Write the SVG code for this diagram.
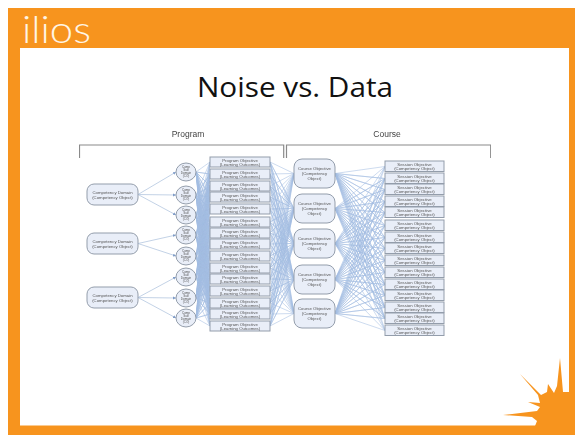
<svg xmlns="http://www.w3.org/2000/svg" width="575" height="435" viewBox="0 0 575 435">
<style>
.w{fill:none;stroke:#a3bde2;stroke-width:.55;stroke-linejoin:bevel}
.d{fill:none;stroke:#b4c6e0;stroke-width:.8}
.n{fill:#e9eef8;stroke:#939dab;stroke-width:1}
.t{font-family:"Liberation Sans",Arial,sans-serif;font-size:4.3px;fill:#555;text-anchor:middle}
.c{font-size:3px}
.h{font-family:"Liberation Sans",Arial,sans-serif;font-size:8.5px;fill:#444;text-anchor:middle}
.b{fill:none;stroke:#8a8a8a;stroke-width:1.2}
</style>
<defs>
<marker id="a" markerWidth="4" markerHeight="4" refX="3" refY="1.5" orient="auto" markerUnits="userSpaceOnUse"><path d="M0 0L3 1.5 0 3z" fill="#7f9cc8"/></marker>
<filter id="s" x="0" y="0" width="1" height="1"><feGaussianBlur stdDeviation=".3"/></filter>
</defs>
<rect id="frame" x="8" y="8" width="567" height="427" fill="#f7941e"/>
<rect id="page" x="20" y="48" width="549" height="377.500" fill="#fff"/>
<path id="burst" fill="#f7941e" d="M567 392L563 392 560 358 557 386 554 393 548 384 547 392 541 395 520 374 538 395 540 403 528 402 540 407 537 411 503 415 532 417 537 421 535 426 575 426 575 392z"/>
<text id="logo" x="22" y="43" font-family="Lato,'Open Sans',sans-serif" font-weight="300" font-size="38" fill="#fff5e4" textLength="69" lengthAdjust="spacingAndGlyphs">ilios</text>
<text id="title" x="295" y="97" font-family="'Open Sans','Noto Sans',sans-serif" font-size="28" fill="#111" text-anchor="middle" textLength="196" lengthAdjust="spacingAndGlyphs">Noise vs. Data</text>
<g filter="url(#s)">
<g id="connectors">
<path class="d" marker-end="url(#a)" d="M138 194.500L176 172"/>
<path class="d" marker-end="url(#a)" d="M138 194.500L176 195"/>
<path class="d" marker-end="url(#a)" d="M138 194.500L176 215"/>
<path class="d" marker-end="url(#a)" d="M138 243.500L176 235"/>
<path class="d" marker-end="url(#a)" d="M138 243.500L176 256"/>
<path class="d" marker-end="url(#a)" d="M138 297.500L176 277"/>
<path class="d" marker-end="url(#a)" d="M138 297.500L176 298"/>
<path class="d" marker-end="url(#a)" d="M138 297.500L176 318"/>
<path class="w" d="M210 162 196 172 210 174 196 172 210 186 196 172 210 197 196 172 210 209 196 172 210 222 196 172 210 233 196 172 210 244 196 172 210 256 196 172 210 268 196 172 210 279 196 172 210 291 196 172 210 303 196 172 210 314 196 172 210 326"/>
<path class="w" d="M210 162 196 195 210 174 196 195 210 186 196 195 210 197 196 195 210 209 196 195 210 222 196 195 210 233 196 195 210 244 196 195 210 256 196 195 210 268 196 195 210 279 196 195 210 291 196 195 210 303 196 195 210 314 196 195 210 326"/>
<path class="w" d="M210 162 196 215 210 174 196 215 210 186 196 215 210 197 196 215 210 209 196 215 210 222 196 215 210 233 196 215 210 244 196 215 210 256 196 215 210 268 196 215 210 279 196 215 210 291 196 215 210 303 196 215 210 314 196 215 210 326"/>
<path class="w" d="M210 162 196 235 210 174 196 235 210 186 196 235 210 197 196 235 210 209 196 235 210 222 196 235 210 233 196 235 210 244 196 235 210 256 196 235 210 268 196 235 210 279 196 235 210 291 196 235 210 303 196 235 210 314 196 235 210 326"/>
<path class="w" d="M210 162 196 256 210 174 196 256 210 186 196 256 210 197 196 256 210 209 196 256 210 222 196 256 210 233 196 256 210 244 196 256 210 256 196 256 210 268 196 256 210 279 196 256 210 291 196 256 210 303 196 256 210 314 196 256 210 326"/>
<path class="w" d="M210 162 196 277 210 174 196 277 210 186 196 277 210 197 196 277 210 209 196 277 210 222 196 277 210 233 196 277 210 244 196 277 210 256 196 277 210 268 196 277 210 279 196 277 210 291 196 277 210 303 196 277 210 314 196 277 210 326"/>
<path class="w" d="M210 162 196 298 210 174 196 298 210 186 196 298 210 197 196 298 210 209 196 298 210 222 196 298 210 233 196 298 210 244 196 298 210 256 196 298 210 268 196 298 210 279 196 298 210 291 196 298 210 303 196 298 210 314 196 298 210 326"/>
<path class="w" d="M210 162 196 318 210 174 196 318 210 186 196 318 210 197 196 318 210 209 196 318 210 222 196 318 210 233 196 318 210 244 196 318 210 256 196 318 210 268 196 318 210 279 196 318 210 291 196 318 210 303 196 318 210 314 196 318 210 326"/>
<path class="w" d="M294 173.500 270 162 294 208.500 270 162 294 243.500 270 162 294 279.500 270 162 294 313.500"/>
<path class="w" d="M294 173.500 270 174 294 208.500 270 174 294 243.500 270 174 294 279.500 270 174 294 313.500"/>
<path class="w" d="M294 173.500 270 186 294 208.500 270 186 294 243.500 270 186 294 279.500 270 186 294 313.500"/>
<path class="w" d="M294 173.500 270 197 294 208.500 270 197 294 243.500 270 197 294 279.500 270 197 294 313.500"/>
<path class="w" d="M294 173.500 270 209 294 208.500 270 209 294 243.500 270 209 294 279.500 270 209 294 313.500"/>
<path class="w" d="M294 173.500 270 222 294 208.500 270 222 294 243.500 270 222 294 279.500 270 222 294 313.500"/>
<path class="w" d="M294 173.500 270 233 294 208.500 270 233 294 243.500 270 233 294 279.500 270 233 294 313.500"/>
<path class="w" d="M294 173.500 270 244 294 208.500 270 244 294 243.500 270 244 294 279.500 270 244 294 313.500"/>
<path class="w" d="M294 173.500 270 256 294 208.500 270 256 294 243.500 270 256 294 279.500 270 256 294 313.500"/>
<path class="w" d="M294 173.500 270 268 294 208.500 270 268 294 243.500 270 268 294 279.500 270 268 294 313.500"/>
<path class="w" d="M294 173.500 270 279 294 208.500 270 279 294 243.500 270 279 294 279.500 270 279 294 313.500"/>
<path class="w" d="M294 173.500 270 291 294 208.500 270 291 294 243.500 270 291 294 279.500 270 291 294 313.500"/>
<path class="w" d="M294 173.500 270 303 294 208.500 270 303 294 243.500 270 303 294 279.500 270 303 294 313.500"/>
<path class="w" d="M294 173.500 270 314 294 208.500 270 314 294 243.500 270 314 294 279.500 270 314 294 313.500"/>
<path class="w" d="M294 173.500 270 326 294 208.500 270 326 294 243.500 270 326 294 279.500 270 326 294 313.500"/>
<path class="w" d="M385 166.500 335 173.500 385 178.500 335 173.500 385 189.500 335 173.500 385 201.500 335 173.500 385 212.500 335 173.500 385 225.500 335 173.500 385 237.500 335 173.500 385 248.500 335 173.500 385 260.500 335 173.500 385 272.500 335 173.500 385 284.500 335 173.500 385 295.500 335 173.500 385 307.500 335 173.500 385 318.500 335 173.500 385 330.500"/>
<path class="w" d="M385 166.500 335 208.500 385 178.500 335 208.500 385 189.500 335 208.500 385 201.500 335 208.500 385 212.500 335 208.500 385 225.500 335 208.500 385 237.500 335 208.500 385 248.500 335 208.500 385 260.500 335 208.500 385 272.500 335 208.500 385 284.500 335 208.500 385 295.500 335 208.500 385 307.500 335 208.500 385 318.500 335 208.500 385 330.500"/>
<path class="w" d="M385 166.500 335 243.500 385 178.500 335 243.500 385 189.500 335 243.500 385 201.500 335 243.500 385 212.500 335 243.500 385 225.500 335 243.500 385 237.500 335 243.500 385 248.500 335 243.500 385 260.500 335 243.500 385 272.500 335 243.500 385 284.500 335 243.500 385 295.500 335 243.500 385 307.500 335 243.500 385 318.500 335 243.500 385 330.500"/>
<path class="w" d="M385 166.500 335 279.500 385 178.500 335 279.500 385 189.500 335 279.500 385 201.500 335 279.500 385 212.500 335 279.500 385 225.500 335 279.500 385 237.500 335 279.500 385 248.500 335 279.500 385 260.500 335 279.500 385 272.500 335 279.500 385 284.500 335 279.500 385 295.500 335 279.500 385 307.500 335 279.500 385 318.500 335 279.500 385 330.500"/>
<path class="w" d="M385 166.500 335 313.500 385 178.500 335 313.500 385 189.500 335 313.500 385 201.500 335 313.500 385 212.500 335 313.500 385 225.500 335 313.500 385 237.500 335 313.500 385 248.500 335 313.500 385 260.500 335 313.500 385 272.500 335 313.500 385 284.500 335 313.500 385 295.500 335 313.500 385 307.500 335 313.500 385 318.500 335 313.500 385 330.500"/>
</g>
<g id="program-bracket"><path class="b" d="M79.500 158V145H283.700V158"/><text class="h" x="188" y="137">Program</text></g>
<g id="course-bracket"><path class="b" d="M286.500 158V145H490.700V158"/><text class="h" x="387" y="137">Course</text></g>
<g id="domain1"><rect class="n" x="87" y="184" width="51" height="21" rx="7"/><text class="t" x="112.500" y="193.500">Competency Domain<tspan x="112.500" dy="5">(Competency Object)</tspan></text></g>
<g id="domain2"><rect class="n" x="87" y="233" width="51" height="21" rx="7"/><text class="t" x="112.500" y="242.500">Competency Domain<tspan x="112.500" dy="5">(Competency Object)</tspan></text></g>
<g id="domain3"><rect class="n" x="87" y="287" width="51" height="21" rx="7"/><text class="t" x="112.500" y="296.500">Competency Domain<tspan x="112.500" dy="5">(Competency Object)</tspan></text></g>
<g id="sub1"><ellipse class="n" cx="186" cy="172" rx="10" ry="9"/><text class="t c" x="186" y="167.500">Comp<tspan x="186" dy="3.200">Sub</tspan><tspan x="186" dy="3.200">Domain</tspan><tspan x="186" dy="3.200">(CO)</tspan></text></g>
<g id="sub2"><ellipse class="n" cx="186" cy="195" rx="10" ry="9"/><text class="t c" x="186" y="190.500">Comp<tspan x="186" dy="3.200">Sub</tspan><tspan x="186" dy="3.200">Domain</tspan><tspan x="186" dy="3.200">(CO)</tspan></text></g>
<g id="sub3"><ellipse class="n" cx="186" cy="215" rx="10" ry="9"/><text class="t c" x="186" y="210.500">Comp<tspan x="186" dy="3.200">Sub</tspan><tspan x="186" dy="3.200">Domain</tspan><tspan x="186" dy="3.200">(CO)</tspan></text></g>
<g id="sub4"><ellipse class="n" cx="186" cy="235" rx="10" ry="9"/><text class="t c" x="186" y="230.500">Comp<tspan x="186" dy="3.200">Sub</tspan><tspan x="186" dy="3.200">Domain</tspan><tspan x="186" dy="3.200">(CO)</tspan></text></g>
<g id="sub5"><ellipse class="n" cx="186" cy="256" rx="10" ry="9"/><text class="t c" x="186" y="251.500">Comp<tspan x="186" dy="3.200">Sub</tspan><tspan x="186" dy="3.200">Domain</tspan><tspan x="186" dy="3.200">(CO)</tspan></text></g>
<g id="sub6"><ellipse class="n" cx="186" cy="277" rx="10" ry="9"/><text class="t c" x="186" y="272.500">Comp<tspan x="186" dy="3.200">Sub</tspan><tspan x="186" dy="3.200">Domain</tspan><tspan x="186" dy="3.200">(CO)</tspan></text></g>
<g id="sub7"><ellipse class="n" cx="186" cy="298" rx="10" ry="9"/><text class="t c" x="186" y="293.500">Comp<tspan x="186" dy="3.200">Sub</tspan><tspan x="186" dy="3.200">Domain</tspan><tspan x="186" dy="3.200">(CO)</tspan></text></g>
<g id="sub8"><ellipse class="n" cx="186" cy="318" rx="10" ry="9"/><text class="t c" x="186" y="313.500">Comp<tspan x="186" dy="3.200">Sub</tspan><tspan x="186" dy="3.200">Domain</tspan><tspan x="186" dy="3.200">(CO)</tspan></text></g>
<g id="po1"><rect class="n" x="210" y="157" width="60" height="10"/><text class="t" x="240" y="161.500">Program Objective<tspan x="240" dy="4.700">(Learning Outcomes)</tspan></text></g>
<g id="po2"><rect class="n" x="210" y="169" width="60" height="10"/><text class="t" x="240" y="173.500">Program Objective<tspan x="240" dy="4.700">(Learning Outcomes)</tspan></text></g>
<g id="po3"><rect class="n" x="210" y="181" width="60" height="10"/><text class="t" x="240" y="185.500">Program Objective<tspan x="240" dy="4.700">(Learning Outcomes)</tspan></text></g>
<g id="po4"><rect class="n" x="210" y="192" width="60" height="10"/><text class="t" x="240" y="196.500">Program Objective<tspan x="240" dy="4.700">(Learning Outcomes)</tspan></text></g>
<g id="po5"><rect class="n" x="210" y="204" width="60" height="10"/><text class="t" x="240" y="208.500">Program Objective<tspan x="240" dy="4.700">(Learning Outcomes)</tspan></text></g>
<g id="po6"><rect class="n" x="210" y="217" width="60" height="10"/><text class="t" x="240" y="221.500">Program Objective<tspan x="240" dy="4.700">(Learning Outcomes)</tspan></text></g>
<g id="po7"><rect class="n" x="210" y="228" width="60" height="10"/><text class="t" x="240" y="232.500">Program Objective<tspan x="240" dy="4.700">(Learning Outcomes)</tspan></text></g>
<g id="po8"><rect class="n" x="210" y="239" width="60" height="10"/><text class="t" x="240" y="243.500">Program Objective<tspan x="240" dy="4.700">(Learning Outcomes)</tspan></text></g>
<g id="po9"><rect class="n" x="210" y="251" width="60" height="10"/><text class="t" x="240" y="255.500">Program Objective<tspan x="240" dy="4.700">(Learning Outcomes)</tspan></text></g>
<g id="po10"><rect class="n" x="210" y="263" width="60" height="10"/><text class="t" x="240" y="267.500">Program Objective<tspan x="240" dy="4.700">(Learning Outcomes)</tspan></text></g>
<g id="po11"><rect class="n" x="210" y="274" width="60" height="10"/><text class="t" x="240" y="278.500">Program Objective<tspan x="240" dy="4.700">(Learning Outcomes)</tspan></text></g>
<g id="po12"><rect class="n" x="210" y="286" width="60" height="10"/><text class="t" x="240" y="290.500">Program Objective<tspan x="240" dy="4.700">(Learning Outcomes)</tspan></text></g>
<g id="po13"><rect class="n" x="210" y="298" width="60" height="10"/><text class="t" x="240" y="302.500">Program Objective<tspan x="240" dy="4.700">(Learning Outcomes)</tspan></text></g>
<g id="po14"><rect class="n" x="210" y="309" width="60" height="10"/><text class="t" x="240" y="313.500">Program Objective<tspan x="240" dy="4.700">(Learning Outcomes)</tspan></text></g>
<g id="po15"><rect class="n" x="210" y="321" width="60" height="10"/><text class="t" x="240" y="325.500">Program Objective<tspan x="240" dy="4.700">(Learning Outcomes)</tspan></text></g>
<g id="co1"><rect class="n" x="294" y="159" width="41" height="29" rx="8"/><text class="t" x="314.500" y="170">Course Objective<tspan x="314.500" dy="4.800">(Competency</tspan><tspan x="314.500" dy="4.800">Object)</tspan></text></g>
<g id="co2"><rect class="n" x="294" y="194" width="41" height="29" rx="8"/><text class="t" x="314.500" y="205">Course Objective<tspan x="314.500" dy="4.800">(Competency</tspan><tspan x="314.500" dy="4.800">Object)</tspan></text></g>
<g id="co3"><rect class="n" x="294" y="229" width="41" height="29" rx="8"/><text class="t" x="314.500" y="240">Course Objective<tspan x="314.500" dy="4.800">(Competency</tspan><tspan x="314.500" dy="4.800">Object)</tspan></text></g>
<g id="co4"><rect class="n" x="294" y="265" width="41" height="29" rx="8"/><text class="t" x="314.500" y="276">Course Objective<tspan x="314.500" dy="4.800">(Competency</tspan><tspan x="314.500" dy="4.800">Object)</tspan></text></g>
<g id="co5"><rect class="n" x="294" y="299" width="41" height="29" rx="8"/><text class="t" x="314.500" y="310">Course Objective<tspan x="314.500" dy="4.800">(Competency</tspan><tspan x="314.500" dy="4.800">Object)</tspan></text></g>
<g id="so1"><rect class="n" x="385" y="161" width="59" height="10.500"/><text class="t" x="414.500" y="165.500">Session Objective<tspan x="414.500" dy="4.800">(Competency Object)</tspan></text></g>
<g id="so2"><rect class="n" x="385" y="173" width="59" height="10.500"/><text class="t" x="414.500" y="177.500">Session Objective<tspan x="414.500" dy="4.800">(Competency Object)</tspan></text></g>
<g id="so3"><rect class="n" x="385" y="184" width="59" height="10.500"/><text class="t" x="414.500" y="188.500">Session Objective<tspan x="414.500" dy="4.800">(Competency Object)</tspan></text></g>
<g id="so4"><rect class="n" x="385" y="196" width="59" height="10.500"/><text class="t" x="414.500" y="200.500">Session Objective<tspan x="414.500" dy="4.800">(Competency Object)</tspan></text></g>
<g id="so5"><rect class="n" x="385" y="207" width="59" height="10.500"/><text class="t" x="414.500" y="211.500">Session Objective<tspan x="414.500" dy="4.800">(Competency Object)</tspan></text></g>
<g id="so6"><rect class="n" x="385" y="220" width="59" height="10.500"/><text class="t" x="414.500" y="224.500">Session Objective<tspan x="414.500" dy="4.800">(Competency Object)</tspan></text></g>
<g id="so7"><rect class="n" x="385" y="232" width="59" height="10.500"/><text class="t" x="414.500" y="236.500">Session Objective<tspan x="414.500" dy="4.800">(Competency Object)</tspan></text></g>
<g id="so8"><rect class="n" x="385" y="243" width="59" height="10.500"/><text class="t" x="414.500" y="247.500">Session Objective<tspan x="414.500" dy="4.800">(Competency Object)</tspan></text></g>
<g id="so9"><rect class="n" x="385" y="255" width="59" height="10.500"/><text class="t" x="414.500" y="259.500">Session Objective<tspan x="414.500" dy="4.800">(Competency Object)</tspan></text></g>
<g id="so10"><rect class="n" x="385" y="267" width="59" height="10.500"/><text class="t" x="414.500" y="271.500">Session Objective<tspan x="414.500" dy="4.800">(Competency Object)</tspan></text></g>
<g id="so11"><rect class="n" x="385" y="279" width="59" height="10.500"/><text class="t" x="414.500" y="283.500">Session Objective<tspan x="414.500" dy="4.800">(Competency Object)</tspan></text></g>
<g id="so12"><rect class="n" x="385" y="290" width="59" height="10.500"/><text class="t" x="414.500" y="294.500">Session Objective<tspan x="414.500" dy="4.800">(Competency Object)</tspan></text></g>
<g id="so13"><rect class="n" x="385" y="302" width="59" height="10.500"/><text class="t" x="414.500" y="306.500">Session Objective<tspan x="414.500" dy="4.800">(Competency Object)</tspan></text></g>
<g id="so14"><rect class="n" x="385" y="313" width="59" height="10.500"/><text class="t" x="414.500" y="317.500">Session Objective<tspan x="414.500" dy="4.800">(Competency Object)</tspan></text></g>
<g id="so15"><rect class="n" x="385" y="325" width="59" height="10.500"/><text class="t" x="414.500" y="329.500">Session Objective<tspan x="414.500" dy="4.800">(Competency Object)</tspan></text></g>
</g>
</svg>
